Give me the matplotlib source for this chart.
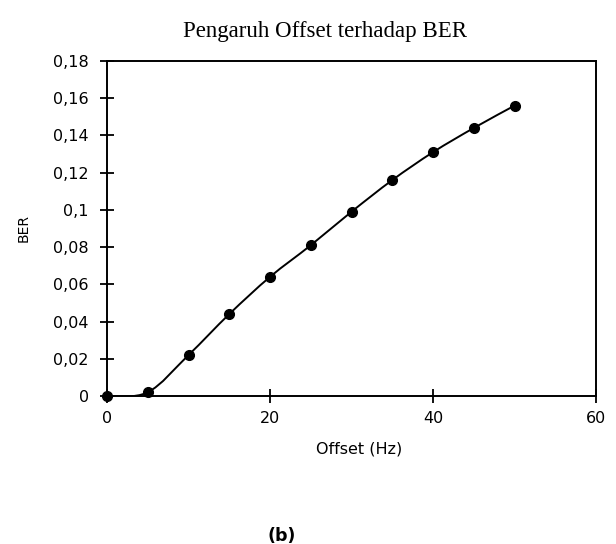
import numpy as np
import matplotlib
matplotlib.use("Agg")
import matplotlib.pyplot as plt
from matplotlib.path import Path
from matplotlib.patches import PathPatch
from matplotlib.ticker import FuncFormatter

offset_hz = [0, 5, 10, 15, 20, 25, 30, 35, 40, 45, 50]
ber = [0.0, 0.002, 0.022, 0.044, 0.064, 0.081, 0.099, 0.116, 0.131, 0.144, 0.156]
x_ticks = [0, 20, 40, 60]
y_ticks = [0, 0.02, 0.04, 0.06, 0.08, 0.1, 0.12, 0.14, 0.16, 0.18]
title = "Pengaruh Offset terhadap BER"
x_label = "Offset (Hz)"
y_label = "BER"
caption = "(b)"

fig = plt.figure(figsize=(6.16, 5.44), dpi=100)
ax = fig.add_axes([107/616, 1-396/544, (596-107)/616, (396-61)/544])

# smoothed line (Catmull-Rom style Bezier through the data points, like Excel)
xs = np.array(offset_hz, dtype=float)
ys = np.array(ber, dtype=float)
verts = [(xs[0], ys[0])]
codes = [Path.MOVETO]
n = len(xs)
for i in range(n - 1):
    p0 = np.array([xs[max(i-1, 0)], ys[max(i-1, 0)]])
    p1 = np.array([xs[i], ys[i]])
    p2 = np.array([xs[i+1], ys[i+1]])
    p3 = np.array([xs[min(i+2, n-1)], ys[min(i+2, n-1)]])
    c1 = p1 + (p2 - p0) / 6.0
    c2 = p2 - (p3 - p1) / 6.0
    verts += [tuple(c1), tuple(c2), tuple(p2)]
    codes += [Path.CURVE4, Path.CURVE4, Path.CURVE4]
ax.add_patch(PathPatch(Path(verts, codes), facecolor='none', edgecolor='black', lw=1.4, zorder=3))
ax.plot(offset_hz, ber, linestyle='none', marker='o', markersize=7, color='black', zorder=4, clip_on=False)

ax.set_xlim(0, 60)
ax.set_ylim(0, 0.18)
ax.set_xticks(x_ticks)
ax.set_yticks(y_ticks)

def fmt(v, pos):
    s = ("%.2f" % v).rstrip('0').rstrip('.')
    return s.replace('.', ',')
ax.yaxis.set_major_formatter(FuncFormatter(fmt))
ax.xaxis.set_major_formatter(FuncFormatter(lambda v, p: "%d" % v))

ax.tick_params(direction='inout', length=10, width=1.3, labelsize=11.5)
ax.tick_params(axis='y', pad=8)
ax.tick_params(axis='x', pad=6)
for lab in ax.get_xticklabels() + ax.get_yticklabels():
    lab.set_fontfamily('DejaVu Sans')
for sp in ax.spines.values():
    sp.set_linewidth(1.4)

fig.text(325/616, 1-31/544, title, ha='center', va='center', fontsize=16.5, family='Liberation Serif')
fig.text(359/616, 1-449/544, x_label, ha='center', va='center', fontsize=11.5, family='DejaVu Sans')
fig.text(24/616, 1-228/544, y_label, ha='center', va='center', fontsize=10, family='DejaVu Sans', rotation=90)
fig.text(282/616, 1-536/544, caption, ha='center', va='center', fontsize=12.5, family='DejaVu Sans', fontweight='bold')

fig.savefig('out.png', dpi=100)
